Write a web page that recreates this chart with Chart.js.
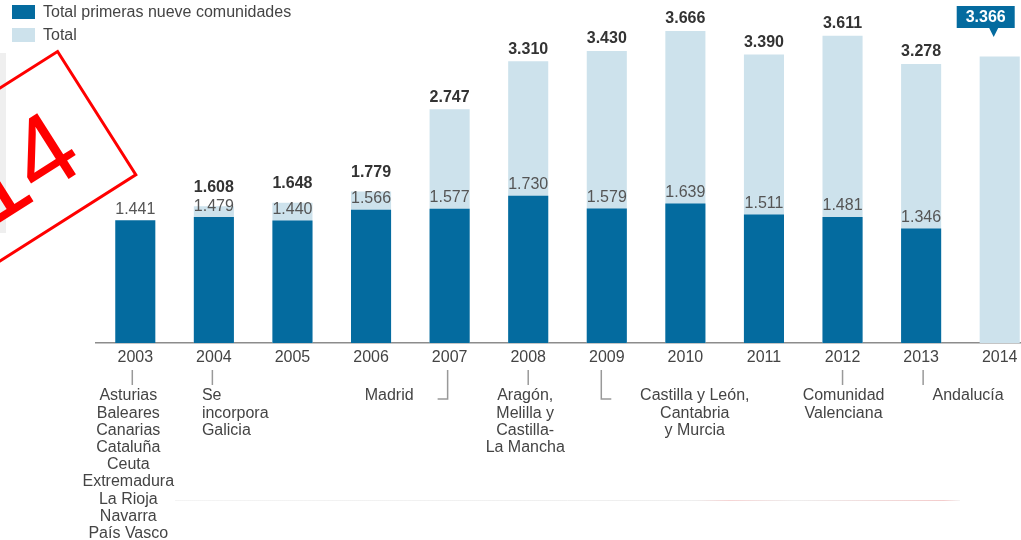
<!DOCTYPE html>
<html>
<head>
<meta charset="utf-8">
<script src="https://cdn.jsdelivr.net/npm/chart.js@4/dist/chart.umd.min.js"></script>
<style>
body { margin: 0; background: #fff; }
#wrap { position: relative; width: 1021px; height: 540px; overflow: hidden; font-family: "Liberation Sans", Arial, sans-serif; }
#grafico { position: absolute; left: 0; top: 0; }
.ley { position: absolute; left: 12px; font-size: 16px; color: #444; line-height: 18px; }
.ley span { display: inline-block; width: 23px; height: 14px; vertical-align: -2px; margin-right: 8px; }
#sello { position: absolute; left: -92px; top: 93px; width: 206px; height: 149px; box-sizing: border-box;
  border: 3px solid #f00; transform: rotate(-32.4deg); color: #f00; font-size: 105px; line-height: 143px;
  text-align: center; padding-left: 12px; padding-top: 4px; }
#borde { position: absolute; left: 0; top: 53px; width: 6px; height: 180px; background: #efefef; }
</style>
</head>
<body>
<div id="wrap">
  <canvas id="grafico" width="1060" height="540"></canvas>
  <div id="borde"></div>
  <div class="ley" style="top:3px"><span style="background:#046b9f"></span>Total primeras nueve comunidades</div>
  <div class="ley" style="top:26px"><span style="background:#cde2ec"></span>Total</div>
  <div id="sello">14</div>
</div>
<script>
const years = ['2003', '2004', '2005', '2006', '2007', '2008', '2009', '2010', '2011', '2012', '2013', '2014'];
const primeras = [1441, 1479, 1440, 1566, 1577, 1730, 1579, 1639, 1511, 1481, 1346, null];
const totales = [null, 1608, 1648, 1779, 2747, 3310, 3430, 3666, 3390, 3611, 3278, 3366];

// comunidades que se incorporan cada año
const notaYears = ['2003', '2004', '2007', '2008', '2009', '2012', '2013'];
const notaTexts = [
    ['Asturias', 'Baleares', 'Canarias', 'Cataluña', 'Ceuta', 'Extremadura', 'La Rioja', 'Navarra', 'País Vasco'],
    ['Se', 'incorpora', 'Galicia'],
    ['Madrid'],
    ['Aragón,', 'Melilla y', 'Castilla-', 'La Mancha'],
    ['Castilla y León,', 'Cantabria', 'y Murcia'],
    ['Comunidad', 'Valenciana'],
    ['Andalucía']
];

const OSCURO = '#046b9f';
const CLARO = '#cde2ec';
const FUENTE = '"Liberation Sans", Arial, sans-serif';

function fmt(n) {
    return String(n).replace(/\B(?=(\d{3})+(?!\d))/g, '.');
}

// donde va la linea y el texto de cada nota, respecto al centro de la barra
const notaPos = [
    { dx: -3, tx: -7, align: 'center', conn: 'v' },
    { dx: -1.5, tx: -12, align: 'left', conn: 'v' },
    { dx: -2, tx: -36, align: 'right', conn: 'izq' },
    { dx: 0, tx: -3, align: 'center', conn: 'v' },
    { dx: -5.5, tx: 88, align: 'center', conn: 'der' },
    { dx: 0, tx: 1, align: 'center', conn: 'v' },
    { dx: 2, tx: 47, align: 'center', conn: 'v' }
];

const etiquetas = {
    id: 'etiquetas',
    afterDatasetsDraw(chart) {
        const ctx = chart.ctx;
        const xs = chart.scales.x, ys = chart.scales.y;
        ctx.save();
        ctx.textAlign = 'center';
        ctx.textBaseline = 'middle';
        years.forEach((yr, i) => {
            const cx = xs.getPixelForValue(i);
            if (primeras[i] != null) {
                ctx.font = '16px ' + FUENTE;
                ctx.fillStyle = '#555';
                ctx.fillText(fmt(primeras[i]), cx, ys.getPixelForValue(primeras[i]) - 11);
            }
            if (totales[i] != null && i < years.length - 1) {
                const top = ys.getPixelForValue(totales[i]);
                const off = (totales[i] - primeras[i] < 400) ? 19 : 12;
                ctx.font = 'bold 16px ' + FUENTE;
                ctx.fillStyle = '#333';
                ctx.fillText(fmt(totales[i]), cx, top - off);
            }
        });

        // globo del ultimo año
        const last = years.length - 1;
        const bx = xs.getPixelForValue(last);
        ctx.fillStyle = OSCURO;
        ctx.fillRect(bx - 43, 6, 58, 22);
        ctx.beginPath();
        ctx.moveTo(bx - 11, 27);
        ctx.lineTo(bx - 1, 27);
        ctx.lineTo(bx - 6, 37);
        ctx.closePath();
        ctx.fill();
        ctx.fillStyle = '#fff';
        ctx.font = 'bold 16px ' + FUENTE;
        ctx.fillText(fmt(totales[last]), bx - 14, 17.5);
        ctx.restore();
    },
    afterDraw(chart) {
        const ctx = chart.ctx;
        const xs = chart.scales.x;
        ctx.save();
        ctx.strokeStyle = '#999';
        ctx.lineWidth = 1.5;
        ctx.fillStyle = '#444';
        ctx.font = '16px ' + FUENTE;
        ctx.textBaseline = 'middle';
        notaYears.forEach((yr, k) => {
            const p = notaPos[k];
            const cx = xs.getPixelForValue(years.indexOf(yr));
            const lx = cx + p.dx;
            ctx.beginPath();
            ctx.moveTo(lx, 370);
            if (p.conn == 'v') {
                ctx.lineTo(lx, 385);
            } else {
                ctx.lineTo(lx, 399);
                ctx.lineTo(p.conn == 'izq' ? lx - 10 : lx + 10, 399);
            }
            ctx.stroke();
            ctx.textAlign = p.align;
            notaTexts[k].forEach((t, j) => {
                ctx.fillText(t, cx + p.tx, 396 + j * 17.2);
            });
        });
        // linea tenue del fondo
        const g = ctx.createLinearGradient(135, 0, 960, 0);
        g.addColorStop(0, '#f4f4f4');
        g.addColorStop(0.68, '#eeeeee');
        g.addColorStop(0.72, '#f6d4d4');
        g.addColorStop(0.8, '#eeeeee');
        g.addColorStop(0.98, '#f4cccc');
        g.addColorStop(1, '#f4f4f4');
        ctx.strokeStyle = g;
        ctx.lineWidth = 1;
        ctx.beginPath();
        ctx.moveTo(175, 500.5);
        ctx.lineTo(960, 500.5);
        ctx.stroke();
        ctx.restore();
    }
};

const chart = new Chart(document.getElementById('grafico').getContext('2d'), {
    type: 'bar',
    data: {
        labels: years,
        datasets: [
            {
                label: 'Total primeras nueve comunidades',
                data: primeras,
                backgroundColor: OSCURO,
                grouped: false,
                barPercentage: 0.51,
                categoryPercentage: 1
            },
            {
                label: 'Total',
                data: totales,
                backgroundColor: CLARO,
                grouped: false,
                barPercentage: 0.51,
                categoryPercentage: 1
            }
        ]
    },
    options: {
        responsive: false,
        animation: false,
        devicePixelRatio: 1,
        layout: { padding: { left: 96, right: 21, top: 0, bottom: 0 } },
        plugins: {
            legend: { display: false },
            tooltip: { enabled: false }
        },
        scales: {
            x: {
                grid: { display: false, drawTicks: false },
                border: { display: true, color: '#8c8c8c', width: 1.5 },
                ticks: { color: '#444', font: { size: 16, family: FUENTE }, padding: 5 },
                afterFit(s) { s.height = 197; }
            },
            y: {
                display: false,
                min: 0,
                max: 4030
            }
        }
    },
    plugins: [etiquetas]
});
</script>
</body>
</html>
